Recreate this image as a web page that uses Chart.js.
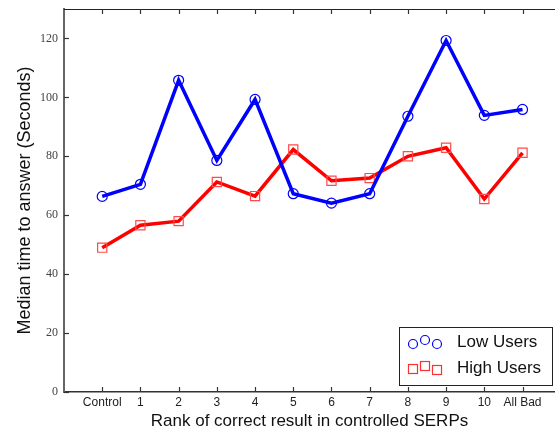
<!DOCTYPE html>
<html><head><meta charset="utf-8">
<script src="https://cdn.jsdelivr.net/npm/chart.js@4.4.0/dist/chart.umd.min.js"></script>
<style>html,body{margin:0;padding:0;background:#fff;overflow:hidden}#wrap{width:555px;height:432px;position:relative}</style>
</head><body><div id="wrap"><canvas id="c" width="555" height="432"></canvas></div>
<script>
const categories = ['Control','1','2','3','4','5','6','7','8','9','10','All Bad'];
const lowUsers  = [66.4, 70.5, 105.8, 78.6, 99.3, 67.3, 64.1, 67.3, 93.6, 119.3, 93.9, 95.9];
const highUsers = [49.0, 56.6, 58.0, 71.3, 66.5, 82.3, 71.7, 72.6, 80.0, 82.9, 65.5, 81.2];
const yTicks = [0, 20, 40, 60, 80, 100, 120];

const toPts = arr => arr.map((v,i)=>({x:i,y:v}));

const plugin = {
  id:'extras',
  afterDraw(chart){
    const ctx = chart.ctx, a = chart.chartArea;
    const xs = chart.scales.x, ys = chart.scales.y;
    ctx.save();
    ctx.strokeStyle='#222'; ctx.lineWidth=1.2;
    ctx.beginPath(); ctx.moveTo(a.left, a.top+0.5); ctx.lineTo(555, a.top+0.5); ctx.stroke();
    ctx.lineWidth=1.2; ctx.strokeStyle='#333';
    categories.forEach((c,i)=>{
      const px = Math.round(xs.getPixelForValue(i))+0.5;
      ctx.beginPath(); ctx.moveTo(px,a.bottom); ctx.lineTo(px,a.bottom-5); ctx.stroke();
      ctx.beginPath(); ctx.moveTo(px,a.top); ctx.lineTo(px,a.top+5); ctx.stroke();
    });
    yTicks.forEach(v=>{
      const py = Math.round(ys.getPixelForValue(v))+0.5;
      ctx.beginPath(); ctx.moveTo(a.left,py); ctx.lineTo(a.left+5,py); ctx.stroke();
    });
    const bx=399, by=327, bw=153, bh=58;
    ctx.fillStyle='#fff'; ctx.fillRect(bx,by,bw,bh);
    ctx.strokeStyle='#222'; ctx.lineWidth=1; ctx.strokeRect(bx+0.5,by+0.5,bw,bh);
    ctx.lineWidth=1.2;
    ctx.strokeStyle='#0000ff';
    [[413,344],[425,340],[437,344]].forEach(([x,y])=>{ctx.beginPath();ctx.arc(x,y,4.5,0,Math.PI*2);ctx.stroke();});
    ctx.strokeStyle='#ff3030';
    [[413,369],[425,366],[437,370]].forEach(([x,y])=>{ctx.strokeRect(x-4.5,y-4.5,9,9);});
    ctx.fillStyle='#111'; ctx.font='17px "Liberation Sans", Arial, sans-serif';
    ctx.textBaseline='middle'; ctx.textAlign='left';
    ctx.fillText('Low Users',457,342);
    ctx.fillText('High Users',457,368);
    ctx.restore();
  }
};

new Chart(document.getElementById('c'),{
  type:'line',
  data:{datasets:[
    {label:'Low Users', data:toPts(lowUsers), borderColor:'#0000ff', borderWidth:3.5,
     pointStyle:'circle', pointRadius:5, pointBorderWidth:1.2, pointBorderColor:'#0000ff', pointBackgroundColor:'rgba(0,0,0,0)', tension:0},
    {label:'High Users', data:toPts(highUsers), borderColor:'#ff0000', borderWidth:3.5,
     pointStyle:'rect', pointRadius:6.5, pointBorderWidth:1.2, pointBorderColor:'#ff4a4a', pointBackgroundColor:'rgba(0,0,0,0)', tension:0}
  ]},
  options:{
    responsive:false, animation:false, devicePixelRatio:1,
    layout:{autoPadding:false, padding:{top:9,right:0,left:0,bottom:0}},
    plugins:{legend:{display:false}, tooltip:{enabled:false}},
    scales:{
      x:{type:'linear', min:-1, max:11.85,
        afterFit(s){s.height=40; s.paddingLeft=0; s.paddingRight=0;},
        afterBuildTicks(s){s.ticks = categories.map((c,i)=>({value:i}));},
        ticks:{autoSkip:false, maxRotation:0, padding:3, color:'#222',
          font:{family:'"Liberation Sans", Arial, sans-serif', size:12},
          callback:(v)=>categories[v] ?? ''},
        grid:{display:false, drawTicks:false},
        border:{display:true, color:'#333', width:1.5},
        title:{display:true, text:'Rank of correct result in controlled SERPs', color:'#111',
          font:{family:'"Liberation Sans", Arial, sans-serif', size:17}, padding:{top:0,bottom:0}}
      },
      y:{min:0, max:130,
        afterFit(s){s.width=64; s.paddingTop=0; s.paddingBottom=0;},
        afterBuildTicks(s){s.ticks = yTicks.map(v=>({value:v}));},
        ticks:{padding:6, color:'#444',
          font:{family:'"Liberation Serif", "DejaVu Serif", serif', size:12}},
        grid:{display:false, drawTicks:false},
        border:{display:true, color:'#666', width:2},
        title:{display:true, text:'Median time to answer (Seconds)', color:'#111',
          font:{family:'"Liberation Sans", Arial, sans-serif', size:18}, padding:{top:14,bottom:0}}
      }
    }
  },
  plugins:[plugin]
});
</script></body></html>
